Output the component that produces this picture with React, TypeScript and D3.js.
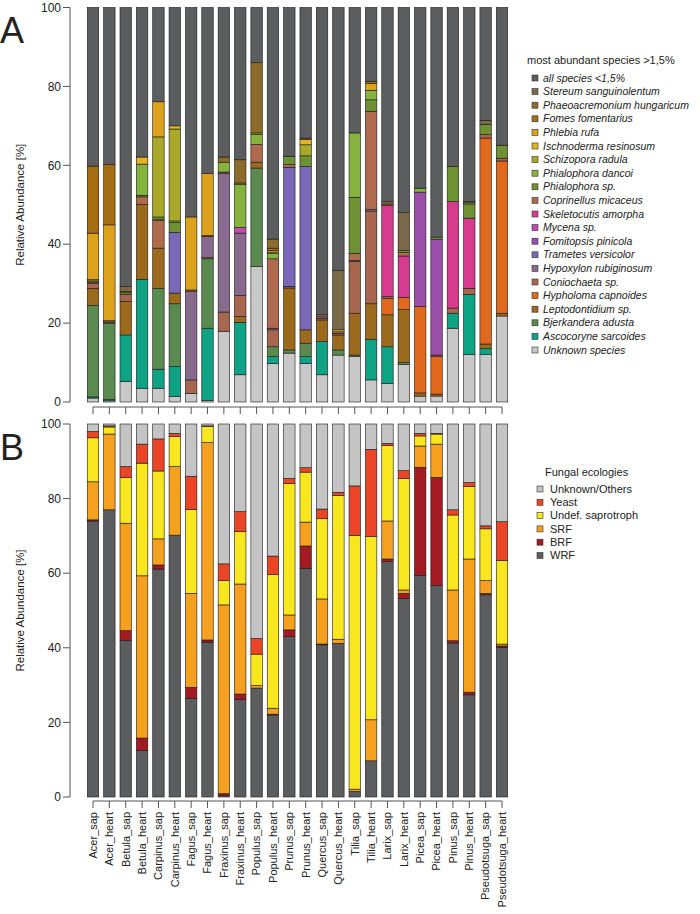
import React from "react";
import * as d3 from "d3";

const samples = ["Acer_sap","Acer_heart","Betula_sap","Betula_heart","Carpinus_sap","Carpinus_heart","Fagus_sap","Fagus_heart","Fraxinus_sap","Fraxinus_heart","Populus_sap","Populus_heart","Prunus_sap","Prunus_heart","Quercus_sap","Quercus_heart","Tilia_sap","Tilia_heart","Larix_sap","Larix_heart","Picea_sap","Picea_heart","Pinus_sap","Pinus_heart","Pseudotsuga_sap","Pseudotsuga_heart"];

// Panel A species (bottom to top of stack)
const unknownSpecies = [1.0,0.3,5.2,3.5,3.5,1.4,2.2,0.4,17.9,6.9,34.3,9.8,12.4,9.8,6.9,11.9,11.5,5.6,4.7,9.5,1.5,1.5,18.7,12.0,12.0,21.8];
const ascocoryne = [0.3,0.3,11.8,27.6,4.8,7.6,0,18.3,0,13.3,0,1.7,0,1.7,8.4,0,0,10.3,9.3,0,0,0,3.8,15.3,1.5,0];
const bjerkandera = [23.2,19.4,0,0,20.5,15.9,0,17.6,0,0,25.0,2.5,0.8,3.4,0,1.3,0.4,0,0,0.5,0,0,0,0,0,0];
const leptodontidium = [4.3,0.3,8.5,19.0,10.2,2.7,0,0.3,0,1.5,1.5,0,15.7,3.4,5.5,3.8,10.6,9.0,8.1,13.4,0.8,0.5,0,0,1.2,0.7];
const hypholoma = [0,0,0,0,0,0,0,0,0,0,0,0,0,0,0,0,0,0,4.2,3.1,21.9,9.5,0,0,52.2,38.6];
const coniochaeta = [1.2,0,1.8,0,0,0,3.4,0,4.9,5.3,0,4.3,0,0,0.4,0.4,13.1,23.5,0.4,0,0,0.4,1.3,1.5,0.9,0.7];
const hypoxylon = [0,0,0,0,0,0,22.4,5.4,35.2,15.8,0,0.4,0.4,0,0.4,0,0.3,0.4,0,0,0,0,0,0,0,0];
const trametes = [0,0,0,0,0,15.4,0,0,0,0,0,0,30.2,41.4,0,0,0,0,0,0,0,0,0,0,0,0];
const fomitopsis = [0,0,0,0,0,0,0,0,0,0,0,0,0,0,0,0,0,0,0,0,29.0,29.3,0,0,0,0];
const mycena = [0,0,0,0,0,0,0,0,0,1.4,0,0,0,0,0,0,0,0,0,0,0,0,0,0,0,0];
const skeletocutis = [0,0,0,0,0,0,0,0,0,0,0,0,0,0,0,0,0,0,23.1,10.5,0,0,27.0,17.8,0,0];
const coprinellus = [0.4,0.3,0,1.9,7.0,0,0.4,0.2,0.3,0,4.5,17.6,0.7,0,0.5,0.4,1.8,24.9,0.4,0.9,0,0,0,0,0,0];
const phialophoraSp = [0.3,0,0.4,0.4,0.4,2.5,0,0,0,0,0,0,2.1,2.7,0,0,14.2,2.9,0,0.5,0,0.6,8.9,3.6,2.6,3.3];
const phialophoraDancoi = [0,0,0,7.9,0.5,0.4,0,0,2.5,11.0,2.5,1.3,0,0,0,0,16.3,2.4,0,0,1.0,0,0,0.3,0,0];
const schizopora = [0.3,0,0,0,20.3,23.3,0,0,0,0.3,0.4,0.4,0,2.8,0,0,0,0,0,0,0,0,0,0,0,0];
const ischnoderma = [0,0,0,1.8,0,0.8,0,0,0,0,0,0.4,0,1.4,0,0.5,0,0,0,0,0,0,0,0,0,0];
const phlebia = [11.8,24.3,0,0,8.9,0,18.5,15.7,0,0,0,0,0,0,0,0,0,1.7,0,0,0,0,0,0,0,0];
const fomes = [17.0,15.3,0,0,0,0,0,0,0,0,0,0.6,0,0.3,0,0,0,0.6,0,0,0,0,0,0,0,0];
const phaeoacremonium = [0,0,0.3,0,0,0,0,0,1.3,5.9,17.8,2.3,0,0,0,0,0,0,0,0,0,0,0,0,0,0];
const stereum = [0,0,1.3,0,0,0,0,0,0,0,0,0,0,0,0,15.0,0,0,0.6,9.6,0,0,0,0.3,1.0,0];
const allSpeciesSmall = [40.2,39.8,70.7,37.9,23.9,30.0,53.1,42.1,37.9,38.6,14.0,58.7,37.7,33.1,77.9,66.7,31.8,18.7,49.2,52.0,45.8,58.2,40.3,49.2,28.6,34.9];

const speciesNames = ["Unknown species","Ascocoryne sarcoides","Bjerkandera adusta","Leptodontidium sp.","Hypholoma capnoides","Coniochaeta sp.","Hypoxylon rubiginosum","Trametes versicolor","Fomitopsis pinicola","Mycena sp.","Skeletocutis amorpha","Coprinellus micaceus","Phialophora sp.","Phialophora dancoi","Schizopora radula","Ischnoderma resinosum","Phlebia rufa","Fomes fomentarius","Phaeoacremonium hungaricum","Stereum sanguinolentum","all species <1,5%"];
const speciesValues = [unknownSpecies,ascocoryne,bjerkandera,leptodontidium,hypholoma,coniochaeta,hypoxylon,trametes,fomitopsis,mycena,skeletocutis,coprinellus,phialophoraSp,phialophoraDancoi,schizopora,ischnoderma,phlebia,fomes,phaeoacremonium,stereum,allSpeciesSmall];
const speciesColors = ["#c8c8c8","#0ea384","#5a8a50","#9c6a1c","#e0691e","#a8664e","#886a8e","#7a68b8","#9a4fab","#c34ab0","#d63b8e","#b06a4e","#6e9134","#86b23e","#aaa828","#e3b424","#dca21c","#a46d12","#8d6b2b","#7a6a4a","#5b5d5e"];

// Panel B ecologies (bottom to top)
const wrf = [74,77,41.9,12.5,61.1,70.2,26.4,41.5,0.4,26.1,29.2,22.0,43.0,61.3,40.8,41.2,1.5,9.7,63.1,53.2,59.4,56.7,41.3,27.4,54.2,40.1];
const brf = [0.3,0,2.7,3.3,1.1,0,3.0,0.6,0.5,1.5,0,0.2,1.8,6.0,0.2,0,0,0,0.7,1.4,29.0,29.0,0.6,0.7,0.4,0.4];
const srf = [10.2,20.3,28.8,43.5,7.0,18.4,25.2,52.9,50.6,29.5,0.7,1.6,4.0,6.4,12.1,1.1,0.6,11.0,10.2,0.9,5.7,8.9,13.6,35.7,3.4,0.5];
const undefSap = [11.8,1.9,12.2,30.2,18.2,8.0,22.5,4.3,6.5,14.1,8.4,35.8,35.3,13.4,21.5,38.5,68.0,49.1,20.2,29.9,2.7,2.7,20.1,19.4,13.9,22.4];
const yeast = [1.7,0.3,3.0,5.1,8.6,0.9,8.9,0.2,4.5,5.3,4.2,5.0,1.3,1.2,2.6,0.9,13.3,23.4,0.6,2.1,0.7,0.2,1.4,1.1,0.8,10.4];
const unknownOthers = [2.0,0.5,11.4,5.4,4.0,2.5,14.0,0.5,37.5,23.5,57.5,35.4,14.6,11.7,22.8,18.3,16.6,6.8,5.2,12.5,2.5,2.5,23.0,15.7,27.3,26.2];

const ecoNames = ["WRF","BRF","SRF","Undef. saprotroph","Yeast","Unknown/Others"];
const ecoValues = [wrf,brf,srf,undefSap,yeast,unknownOthers];
const ecoColors = ["#5b5d5e","#a31b22","#f5a01e","#f8e71e","#ea4526","#c4c4c4"];

const yTicks = [0,20,40,60,80,100];

const FONT = "'Liberation Sans', Arial, Helvetica, sans-serif";

function stackRows(values: number[][]) {
  const rows = samples.map((s, i) => {
    const r: any = { sample: s };
    values.forEach((arr, k) => { r["k" + k] = arr[i]; });
    return r;
  });
  const keys = values.map((_, k) => "k" + k);
  return d3.stack().keys(keys)(rows);
}

function Panel({ values, colors, y, x }: any) {
  const series = stackRows(values);
  return (
    <g>
      {series.map((s: any, k: number) =>
        s.map((d: any, i: number) => {
          const v = d[1] - d[0];
          if (v <= 0) return null;
          return (
            <rect key={k + "-" + i}
              x={x(samples[i])} width={x.bandwidth()}
              y={y(d[1])} height={Math.max(0, y(d[0]) - y(d[1]))}
              fill={colors[k]} stroke="#1a1a1a" strokeWidth={0.6} />
          );
        })
      )}
    </g>
  );
}

function YAxis({ y, axisX }: any) {
  return (
    <g fontFamily={FONT} fontSize={12} fill="#222">
      <line x1={axisX} x2={axisX} y1={y(0)} y2={y(100)} stroke="#555" strokeWidth={1} />
      {yTicks.map(t => (
        <g key={t}>
          <line x1={axisX - 7} x2={axisX} y1={y(t)} y2={y(t)} stroke="#555" strokeWidth={1} />
          <text x={axisX - 9} y={y(t)} dy="0.35em" textAnchor="end">{t}</text>
        </g>
      ))}
    </g>
  );
}

function XAxis({ x, yLine }: any) {
  const c = (s: string) => x(s) + x.bandwidth() / 2;
  return (
    <g>
      <line x1={c(samples[0])} x2={c(samples[samples.length - 1])} y1={yLine} y2={yLine} stroke="#555" strokeWidth={1} />
      {samples.map(s => (
        <line key={s} x1={c(s)} x2={c(s)} y1={yLine} y2={yLine + 7} stroke="#555" strokeWidth={1} />
      ))}
    </g>
  );
}

export default function App() {
  const x = d3.scaleBand<string>().domain(samples).range([84.82, 510.18]).paddingInner(0.3).paddingOuter(0.15);
  const yA = d3.scaleLinear().domain([0, 100]).range([402, 7.5]);
  const yB = d3.scaleLinear().domain([0, 100]).range([797, 424]);
  const c = (s: string) => (x(s) as number) + x.bandwidth() / 2;

  const legA = speciesNames.map((n, i) => ({ n, col: speciesColors[i] })).reverse();
  const legB = ecoNames.map((n, i) => ({ n, col: ecoColors[i] })).reverse();

  return (
    <svg width={700} height={914} style={{ position: "absolute", left: 0, top: 0, background: "#fff" }}>
      <rect x={0} y={0} width={700} height={914} fill="#fff" />
      <text x={0} y={43} fontFamily={FONT} fontSize={36} fill="#222">A</text>
      <text x={0} y={460} fontFamily={FONT} fontSize={36} fill="#222">B</text>

      <Panel values={speciesValues} colors={speciesColors} y={yA} x={x} />
      <Panel values={ecoValues} colors={ecoColors} y={yB} x={x} />

      <YAxis y={yA} axisX={70} />
      <YAxis y={yB} axisX={70} />
      <XAxis x={x} yLine={407} />
      <XAxis x={x} yLine={801} />

      <text transform={`translate(24,${(yA(0) + yA(100)) / 2}) rotate(-90)`} textAnchor="middle" fontFamily={FONT} fontSize={11.5} fill="#222">Relative Abundance [%]</text>
      <text transform={`translate(24,${(yB(0) + yB(100)) / 2}) rotate(-90)`} textAnchor="middle" fontFamily={FONT} fontSize={11.5} fill="#222">Relative Abundance [%]</text>

      {samples.map(s => (
        <text key={s} transform={`translate(${c(s)},812) rotate(-90)`} dy="0.35em" textAnchor="end" fontFamily={FONT} fontSize={11} fill="#222">{s}</text>
      ))}

      <g fontFamily={FONT} fontSize={11} fill="#222">
        <text x={527} y={60} dy="0.35em">most abundant species &gt;1,5%</text>
        {legA.map((d, i) => (
          <g key={d.n}>
            <rect x={532} y={78 + i * 13.6 - 3} width={6} height={6} fill={d.col} stroke="#333" strokeWidth={0.6} />
            <text x={543} y={78 + i * 13.6} dy="0.35em" fontStyle="italic" fontSize={10.5}>{d.n}</text>
          </g>
        ))}
        <text x={545} y={472} dy="0.35em">Fungal ecologies</text>
        {legB.map((d, i) => (
          <g key={d.n}>
            <rect x={537} y={489 + i * 13.3 - 3} width={6} height={6} fill={d.col} stroke="#333" strokeWidth={0.6} />
            <text x={550} y={489 + i * 13.3} dy="0.35em">{d.n}</text>
          </g>
        ))}
      </g>
    </svg>
  );
}
